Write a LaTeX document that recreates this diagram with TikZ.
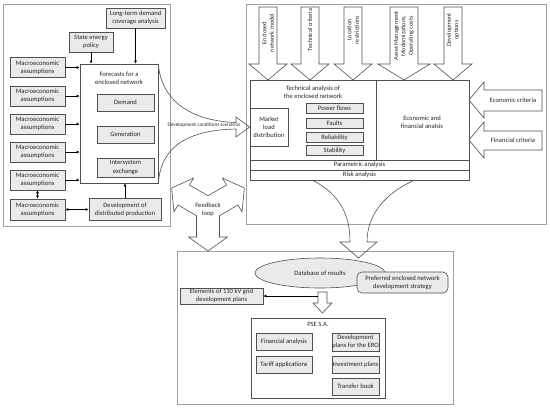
\documentclass[tikz,border=0pt]{standalone}
\usepackage{fontspec}
\setmainfont{Carlito}
\usetikzlibrary{arrows.meta,shapes.geometric,calc}
\definecolor{boxfill}{HTML}{EAEAEA}
\definecolor{boxline}{HTML}{505050}
\definecolor{frameline}{HTML}{A0A0A0}
\begin{document}
\begin{tikzpicture}[x=1pt,y=-1pt,
  every node/.style={font=\fontsize{6.6}{8.2}\selectfont, align=center, inner sep=0pt, text=black!85},
  gbox/.style={draw=boxline, fill=boxfill, line width=0.6pt},
  wbox/.style={draw=boxline, fill=white, line width=0.6pt},
  frame/.style={draw=frameline, line width=0.8pt},
  arr/.style={-{Latex[length=3pt,width=3pt]}, line width=0.6pt, draw=black},
  darr/.style={{Latex[length=3pt,width=3pt]}-{Latex[length=3pt,width=3pt]}, line width=0.6pt, draw=black},
  blk/.style={draw=boxline, line width=0.6pt, line join=miter},
  small/.style={font=\fontsize{5.2}{6}\selectfont},
  vert/.style={rotate=90, font=\fontsize{6.2}{7.4}\selectfont}
]
\useasboundingbox (0,0) rectangle (550,408);

% frames
\draw[frame] (3,4) rectangle (170,226);
\draw[frame] (246,4) rectangle (546,224);
\draw[frame] (177,251) rectangle (453,404);

% ---------- left part ----------
\node[gbox, minimum width=59pt, minimum height=20pt] (ltd) at (135.5,18) {Long-term demand\\coverage analysis};
\node[gbox, minimum width=44pt, minimum height=20pt] (sep) at (91,42) {State energy\\policy};
\node[wbox, minimum width=78pt, minimum height=119pt] (fc) at (119,123.5) {};
\node (fct) at (119,78) {Forecasts for a\\enclosed network};
\node[gbox, minimum width=57pt, minimum height=17pt] (dem) at (125.5,102.5) {Demand};
\node[gbox, minimum width=57pt, minimum height=17pt] (gen) at (125.5,134.5) {Generation};
\node[gbox, minimum width=57pt, minimum height=19pt] (inter) at (125.5,167.5) {Intersystem\\exchange};
\node[gbox, minimum width=55pt, minimum height=20pt] (m1) at (37.5,67.5) {Macroeconomic\\assumptions};
\node[gbox, minimum width=55pt, minimum height=20pt] (m2) at (37.5,96) {Macroeconomic\\assumptions};
\node[gbox, minimum width=55pt, minimum height=20pt] (m3) at (37.5,124) {Macroeconomic\\assumptions};
\node[gbox, minimum width=55pt, minimum height=20pt] (m4) at (37.5,152) {Macroeconomic\\assumptions};
\node[gbox, minimum width=55pt, minimum height=20pt] (m5) at (37.5,180) {Macroeconomic\\assumptions};
\node[gbox, minimum width=55pt, minimum height=21pt] (m6) at (37.5,209.5) {Macroeconomic\\assumptions};
\node[gbox, minimum width=72pt, minimum height=22pt] (dev) at (125,209.5) {Development of\\distributed production};

\draw[arr] (ltd.south) -- (ltd.south |- fc.north);
\draw[arr] (sep.south) -- (sep.south |- fc.north);
\foreach \m in {m1,m2,m3,m4,m5}{\draw[arr] (\m.east) -- (\m.east -| fc.west);}
\draw[darr] (m5.south) -- (m6.north);
\draw[darr] (m6.east) -- (dev.west);
\draw[arr] (dev.north) -- (dev.north |- fc.south);

% ---------- right part ----------
% down block arrows
\draw[blk] (259,7) -- (259,64) -- (249,64) -- (268,80) -- (287,64) -- (277,64) -- (277,7) -- cycle;
\draw[blk] (301,7) -- (301,64) -- (291,64) -- (310,80) -- (329,64) -- (319,64) -- (319,7) -- cycle;
\draw[blk] (344,7) -- (344,64) -- (334,64) -- (353,80) -- (372,64) -- (362,64) -- (362,7) -- cycle;
\draw[blk] (390,7) -- (390,64) -- (378,64) -- (404,80) -- (430,64) -- (418,64) -- (418,7) -- cycle;
\draw[blk] (444,7) -- (444,64) -- (434,64) -- (453,80) -- (472,64) -- (462,64) -- (462,7) -- cycle;
\node[vert] (a1) at (268,33) {Enclosed\\network model};
\node[vert] (a2) at (310,30) {Technical criteria};
\node[vert] (a3) at (353,30) {Location\\restrictions};
\node[vert] (a4) at (404,36) {Asset Management\\Modernizations,\\Operating costs};
\node[vert] (a5) at (453,30) {Development\\options};

% technical analysis block
\node[wbox, minimum width=219pt, minimum height=100pt] (tech) at (359.5,130) {};
\draw[boxline, line width=0.6pt] (376,80) -- (376,160);
\draw[boxline, line width=0.6pt] (250,160) -- (469,160);
\draw[boxline, line width=0.6pt] (250,170) -- (469,170);
\node (tat) at (313,92) {Technical analysis of\\the enclosed network};
\node[wbox, minimum width=38pt, minimum height=38pt] (mld) at (269,127) {Market\\load\\distribution};
\node[gbox, minimum width=57pt, minimum height=10pt] (pf) at (334.5,108) {Power flows};
\node[gbox, minimum width=57pt, minimum height=10pt] (flt) at (334.5,123) {Faults};
\node[gbox, minimum width=57pt, minimum height=10pt] (rel) at (334.5,137.5) {Reliability};
\node[gbox, minimum width=57pt, minimum height=10pt] (stb) at (334.5,150.5) {Stability};
\node (efa) at (422,122) {Economic and\\financial analsis};
\node (par) at (359.5,165) {Parametric analysis};
\node (risk) at (359.5,175) {Risk analysis};

% left block arrows
\draw[blk] (542,90) -- (484,90) -- (484,82) -- (469,100) -- (484,118) -- (484,111) -- (542,111) -- cycle;
\draw[blk] (542,131) -- (484,131) -- (484,122) -- (469,140) -- (484,158) -- (484,150) -- (542,150) -- cycle;
\node (ecc) at (513,100.5) {Economic criteria};
\node (fic) at (513,140.5) {Financial criteria};

% development conditions scenarios funnel
\draw[blk] (fc.north east) .. controls (161,100) and (190,121) .. (236,122.5)
  -- (236,117) -- (mld.west) -- (236,137) -- (236,129)
  .. controls (190,130) and (161,145) .. (fc.south east);
\node[small] (dcs) at (204,125.5) {Development conditions scenarios};

% feedback loop
\draw[blk] (208,195.72) -- (226.5,185.04) -- (222.5,178.11) -- (244.37,188) -- (242,211.89) -- (238,204.96) -- (219.5,215.64) -- (219.5,237) -- (227.5,237) -- (208,251) -- (188.5,237) -- (196.5,237) -- (196.5,215.64) -- (178,204.96) -- (174,211.89) -- (171.63,188) -- (193.5,178.11) -- (189.5,185.04) -- cycle;
\node (fbl) at (208,210) {Feedback\\loop};

% ---------- bottom part ----------
\draw[blk] (312,180) .. controls (340,194) and (350,215) .. (350,242)
  -- (340,242) -- (358.5,258) -- (377,242) -- (367,242)
  .. controls (367,215) and (385,193) .. (415,180);
\node[draw=boxline, fill=boxfill, line width=0.6pt, ellipse, minimum width=130pt, minimum height=30pt] (db) at (320,273) {Database of results};
\node[gbox, rounded corners=5pt, minimum width=91pt, minimum height=21pt] (pref) at (402.5,282.5) {Preferred enclosed network\\development strategy};
\draw[blk] (318,292) -- (318,303) -- (313,303) -- (322.5,313) -- (332,303) -- (327,303) -- (327,292) -- cycle;
\coordinate (sa) at (318,296);
\node[gbox, minimum width=83pt, minimum height=16pt] (elem) at (221.5,296) {Elements of 110 kV grid\\development plans};
\draw[arr] (sa) -- (elem.east);

\node[wbox, minimum width=134pt, minimum height=80pt] (pse) at (318,358) {};
\node (pset) at (318,324.5) {PSE S.A.};
\node[gbox, minimum width=56pt, minimum height=17pt] (fa) at (284,341.5) {Financial analysis};
\node[gbox, minimum width=56pt, minimum height=17pt] (ta) at (284,364.5) {Tariff applications};
\node[gbox, minimum width=47pt, minimum height=18pt] (ero) at (355.5,342) {Development\\plans for the ERO};
\node[gbox, minimum width=47pt, minimum height=17pt] (inv) at (355.5,364.5) {Investment plans};
\node[gbox, minimum width=47pt, minimum height=17pt] (tb) at (355.5,386.5) {Transfer book};
\end{tikzpicture}
\end{document}
